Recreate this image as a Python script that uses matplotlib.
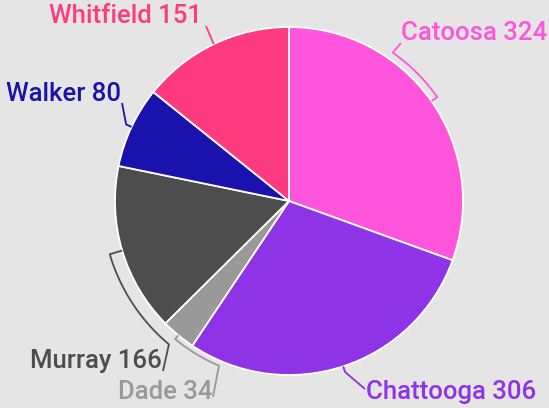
import numpy as np
import matplotlib.pyplot as plt

# Datos
condados = ["Catoosa", "Chattooga", "Dade", "Murray", "Walker", "Whitfield"]
valores = [324, 306, 34, 166, 80, 151]
colores = ["#ff55dd", "#8e33e6", "#999999", "#4d4d4d", "#1a12ad", "#ff3b80"]

# Layout de etiquetas (coordenadas en pixeles de imagen, y hacia abajo)
# radio del corchete, giro del arco (grados), punto final de la guia, posicion del texto, alineacion
radio_guia = [181, 180, 179, 187, 180, 174]
giro_arco = [20, 0, 16.5, 33.5, 0, 0]
fin_guia = [(401, 43), (365, 389), (213, 397), (163, 371), (122, 103), (206, 26)]
pos_texto = [(401, 33), (366, 392), (212, 392), (162, 361), (121, 94), (202, 16)]
alineacion = ["left", "left", "right", "right", "right", "right"]

W, H = 549, 408
cx, cy, R = 289, H - 201, 174

fig = plt.figure(figsize=(W / 100, H / 100), dpi=100, facecolor="#e5e5e5")
ax = fig.add_axes([0, 0, 1, 1])
ax.set_facecolor("#e5e5e5")

wedges, _ = ax.pie(valores, colors=colores, startangle=90, counterclock=False,
                   radius=R, center=(cx, cy),
                   wedgeprops=dict(edgecolor="white", linewidth=1.3))

for w, nombre, v, col, rb, giro, fin, pt, ha in zip(wedges, condados, valores, colores,
                                                     radio_guia, giro_arco, fin_guia,
                                                     pos_texto, alineacion):
    medio = (w.theta1 + w.theta2) / 2
    ang = np.radians(np.linspace(medio, medio + giro, 40))
    xs = [cx + R * np.cos(ang[0])] + list(cx + rb * np.cos(ang)) + [fin[0]]
    ys = [cy + R * np.sin(ang[0])] + list(cy + rb * np.sin(ang)) + [H - fin[1]]
    ax.plot(xs, ys, color=col, linewidth=1.3, solid_capstyle="butt")
    ax.text(pt[0], H - pt[1], f"{nombre} {v}", color=col, ha=ha, va="center",
            fontsize=18.5, fontfamily="Roboto", fontweight="medium")

ax.set_xlim(0, W)
ax.set_ylim(0, H)
ax.set_aspect("equal")
ax.axis("off")

plt.savefig("out.png", dpi=100, facecolor=fig.get_facecolor())
